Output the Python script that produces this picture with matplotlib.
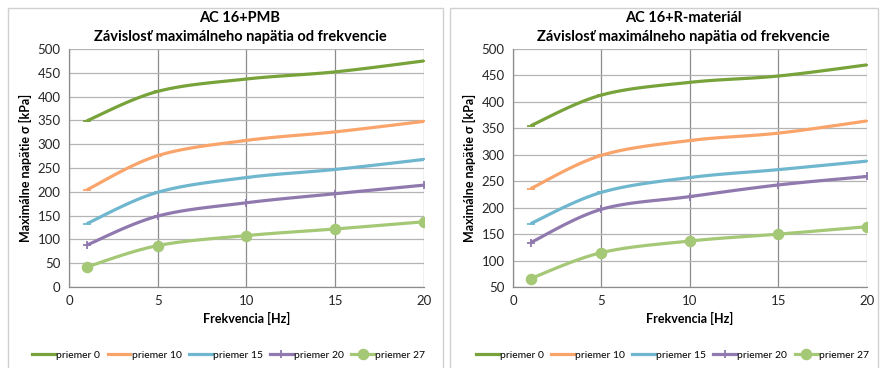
import numpy as np
import matplotlib.pyplot as plt
from matplotlib import font_manager
from matplotlib.patches import Rectangle

# frekvencia [Hz]
freq = [1, 5, 10, 15, 20]

# AC 16+PMB
pmb_p0 = [349, 411, 437, 452, 475]
pmb_p10 = [204, 276, 308, 326, 348]
pmb_p15 = [133, 199, 230, 247, 268]
pmb_p20 = [88, 149, 177, 196, 214]
pmb_p27 = [42, 87, 108, 122, 137]

# AC 16+R-materiál
rm_p0 = [355, 413, 437, 449, 470]
rm_p10 = [236, 299, 327, 341, 364]
rm_p15 = [170, 229, 257, 272, 288]
rm_p20 = [134, 197, 221, 243, 259]
rm_p27 = [66, 115, 137, 150, 164]

labels = ['priemer 0', 'priemer 10', 'priemer 15', 'priemer 20', 'priemer 27']
colors = ['#77a33a', '#f9a46b', '#6fb7cf', '#9079ae', '#a5c876']
markers = ['_', '_', '_', '+', 'o']

installed = {f.name for f in font_manager.fontManager.ttflist}
main_font = 'Lato' if 'Lato' in installed else 'DejaVu Sans'
plt.rcParams['font.family'] = [main_font, 'DejaVu Sans']


def smooth(xs, ys, sx, sy, n=30):
    """Excel-like smoothed line: cubic Bezier through points (screen-scaled)."""
    p = np.column_stack([np.asarray(xs, float) * sx, np.asarray(ys, float) * sy])
    out = []
    for i in range(len(p) - 1):
        p0 = p[i - 1] if i > 0 else p[i]
        p1, p2 = p[i], p[i + 1]
        p3 = p[i + 2] if i + 2 < len(p) else p[i + 1]
        c1 = p1 + (p2 - p0) / 6
        c2 = p2 - (p3 - p1) / 6
        t = np.linspace(0, 1, n)[:, None]
        seg = ((1 - t) ** 3) * p1 + 3 * ((1 - t) ** 2) * t * c1 + 3 * (1 - t) * t ** 2 * c2 + t ** 3 * p2
        out.append(seg if i == 0 else seg[1:])
    out = np.vstack(out)
    return out[:, 0] / sx, out[:, 1] / sy


fig = plt.figure(figsize=(8.82, 3.68), dpi=100)

# ramčeky okolo grafov
for x0, x1 in [(8, 443), (450, 878)]:
    fig.patches.append(Rectangle((x0 / 882, -0.01), (x1 - x0) / 882, 1.01 - 8 / 368,
                                 transform=fig.transFigure, fill=False,
                                 edgecolor='#d0d0d0', linewidth=1.0))

panels = [
    ('AC 16+PMB', [pmb_p0, pmb_p10, pmb_p15, pmb_p20, pmb_p27], (0, 500), [0.0782, 0.2201, 0.4025, 0.6467], 240),
    ('AC 16+R-materiál', [rm_p0, rm_p10, rm_p15, rm_p20, rm_p27], (50, 500), [0.5816, 0.2201, 0.4014, 0.6467], 683),
]

for title, series, ylim, pos, title_x in panels:
    ax = fig.add_axes(pos)
    # pixely na jednotku pre vyhladzovanie
    sx = pos[2] * 882 / 20
    sy = pos[3] * 368 / (ylim[1] - ylim[0])
    handles = []
    for vals, lab, col, mk in zip(series, labels, colors, markers):
        xs, ys = smooth(freq, vals, sx, sy)
        ax.plot(xs, ys, color=col, lw=2.3, solid_capstyle='butt', zorder=3)
        ms = 7 if mk == 'o' else 6
        ax.plot(freq, vals, linestyle='none', marker=mk, color=col, ms=ms, mew=1.3, zorder=4)
        h, = ax.plot([], [], color=col, lw=2.3, marker=(mk if mk in '+o' else None), ms=ms, mew=1.3)
        handles.append(h)

    ax.set_xlim(0, 20)
    ax.set_ylim(*ylim)
    ax.set_xticks([0, 5, 10, 15, 20])
    ax.set_yticks(np.arange(ylim[0], 501, 50))
    ax.grid(axis='x', color='#8c8c8c', lw=0.9)
    ax.grid(axis='y', color='#b4b4b4', lw=0.9)
    ax.set_axisbelow(True)
    ax.tick_params(length=0, labelsize=9.5, pad=6, colors='#262626')
    for s in ['top', 'right']:
        ax.spines[s].set_visible(False)
    for s in ['left', 'bottom']:
        ax.spines[s].set_color('#8c8c8c')
        ax.spines[s].set_linewidth(0.9)

    ax.set_xlabel('Frekvencia [Hz]', fontsize=9, fontweight='bold', labelpad=3)
    ax.set_ylabel('Maximálne napätie σ [kPa]', fontsize=9, fontweight='bold', labelpad=4)

    fig.text(title_x / 882, 1 - 18 / 368, title, ha='center', va='center', fontsize=10.5, fontweight='bold')
    fig.text(title_x / 882, 1 - 37 / 368, 'Závislosť maximálneho napätia od frekvencie',
             ha='center', va='center', fontsize=10.5, fontweight='bold')

    ax.legend(handles, labels, loc='center', bbox_to_anchor=(0.45, (0.035 - pos[1]) / pos[3]), ncol=5,
              frameon=False, handlelength=2.2, handletextpad=0.1, columnspacing=0.7,
              prop={'size': 7.5})

fig.savefig('out.png', dpi=100)
